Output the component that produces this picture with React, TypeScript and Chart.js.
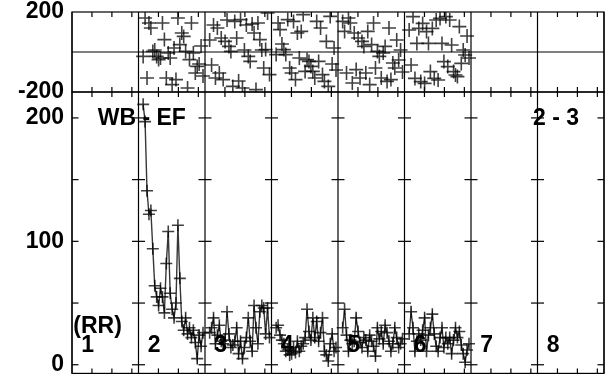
import React, { useEffect, useRef } from 'react';
import { Chart, registerables } from 'chart.js';

Chart.register(...registerables);

// ---- data ----
const columnLabels = ['1', '2', '3', '4', '5', '6', '7', '8'];
const titleLeft = 'WB - EF';
const titleRight = '2 - 3';
const rowLabel = '(RR)';
const bottomTickLabels = [0, 100, 200];
const bottomTickMarks = [0, 50, 100, 150, 200];
const topTickLabels = [200, -200];
const subTicks = [0.3, 0.6, 0.9];
const seriesColumns = [1, 2, 3, 4, 5];

const rrCol2 = [211, 197, 141, 122, 125, 94, 64, 55, 48, 62, 55, 42, 82, 108, 58, 45, 38, 50, 113, 70, 35, 28, 38, 25, 30, 22, 28, 18, 5, 24, 15, 26];
const rrCol3 = [26, 30, 38, 17, 24, 32, 19, 17, 20, 43, 25, 14, 16, 19, 30, 9, 19, 5, 14, 22, 38, 19, 11, 48, 30, 17, 43, 48, 46, 25, 46, 22];
const rrCol4 = [30, 32, 24, 20, 17, 11, 12, 8, 9, 14, 10, 19, 11, 15, 17, 22, 45, 27, 20, 38, 22, 35, 19, 26, 38, 11, 8, 3, 17, 25, 11, 14];
const rrCol5 = [30, 45, 24, 11, 20, 17, 19, 38, 27, 18, 14, 22, 20, 11, 24, 19, 15, 7, 30, 21, 27, 17, 32, 26, 19, 11, 17, 30, 22, 14, 17, 21];
const rrCol6 = [25, 43, 30, 11, 19, 25, 20, 28, 38, 11, 24, 30, 41, 25, 15, 11, 22, 30, 14, 22, 17, 22, 9, 20, 30, 22, 27, 16, 9, 2, 12, 17];

const resCol2 = [-22, 170, -130, 145, 120, 3, 10, -22, -38, -30, 145, 62, -130, -5, -30, -163, 20, -138, 170, 37, 95, 78, 3, -180, -38, 145, -5, -105, -72, -60, 30, -120];
const resCol3 = [60, -65, 135, -130, 120, -105, 70, -138, 53, 160, 28, 3, -172, 153, 70, -145, 162, -180, 10, 135, -22, -47, 140, 95, -188, 145, 62, 10, -80, 12, 195, -113];
const resCol4 = [-13, 145, 112, 40, 12, -13, 162, -80, -105, 153, -138, 95, -30, 103, 187, -97, -38, -47, -72, -97, -130, 153, -47, 120, -113, -147, 53, -172, 178, -60, 20, -90];
const resCol5 = [153, 103, -105, 170, 145, -155, 95, -88, 70, -130, 53, 28, -105, 103, -163, 37, 145, -80, 3, -22, -130, -5, 28, -147, 120, -138, -55, -80, 60, -40, 10, -100];
const resCol6 = [110, -65, 177, -132, 43, 118, -148, 143, -157, 102, 43, -98, 118, -132, 160, -140, 168, 43, -48, 177, -73, 160, 35, -98, -115, -123, 127, -57, 10, -15, 80, -30];

const rrSeries = [rrCol2, rrCol3, rrCol4, rrCol5, rrCol6];
const resSeries = [resCol2, resCol3, resCol4, resCol5, resCol6];

const W = 616;
const H = 381;
const FONT = 'bold 23px "Liberation Sans", Arial, Helvetica, sans-serif';

function colX(col: number, i: number, n: number) {
  return col + 0.07 + (0.9 * i) / (n - 1);
}

function line(ctx: CanvasRenderingContext2D, x1: number, y1: number, x2: number, y2: number) {
  ctx.beginPath();
  ctx.moveTo(x1, y1);
  ctx.lineTo(x2, y2);
  ctx.stroke();
}

const topFrame = {
  id: 'topFrame',
  beforeDatasetsDraw(chart: any) {
    const { ctx, chartArea, scales } = chart;
    const { left, right, top, bottom } = chartArea;
    const x = scales.x;
    const y = scales.y;
    ctx.save();
    ctx.strokeStyle = '#000';
    ctx.lineWidth = 1.2;
    ctx.strokeRect(left, top, right - left, bottom - top);
    const y0 = y.getPixelForValue(0);
    line(ctx, left, y0, right, y0);
    for (let c = 0; c <= columnLabels.length; c++) {
      const px = x.getPixelForValue(c);
      line(ctx, px, top, px, bottom);
    }
    for (let c = 0; c < columnLabels.length; c++) {
      for (const s of subTicks) {
        const px = x.getPixelForValue(c + s);
        line(ctx, px, top, px, top + 5);
        line(ctx, px, bottom - 5, px, bottom + 5);
      }
    }
    ctx.fillStyle = '#000';
    ctx.font = FONT;
    ctx.textAlign = 'right';
    ctx.textBaseline = 'middle';
    for (const t of topTickLabels) {
      ctx.fillText(String(t), left - 8, y.getPixelForValue(t));
    }
    ctx.restore();
  },
};

const bottomFrame = {
  id: 'bottomFrame',
  beforeDatasetsDraw(chart: any) {
    const { ctx, chartArea, scales } = chart;
    const { left, right, top, bottom } = chartArea;
    const x = scales.x;
    const y = scales.y;
    const n = columnLabels.length;
    ctx.save();
    ctx.strokeStyle = '#000';
    ctx.lineWidth = 1.2;
    ctx.strokeRect(left, top, right - left, bottom - top);
    for (let c = 0; c <= n; c++) {
      const px = x.getPixelForValue(c);
      line(ctx, px, top, px, bottom);
      for (const t of bottomTickMarks) {
        const py = y.getPixelForValue(t);
        const l = c === 0 ? 0 : 6.5;
        const r = c === n ? 0 : 6.5;
        line(ctx, px - l, py, px + r, py);
      }
    }
    for (let c = 0; c < n; c++) {
      for (const s of subTicks) {
        const px = x.getPixelForValue(c + s);
        line(ctx, px, bottom - 5, px, bottom);
      }
    }
    ctx.fillStyle = '#000';
    ctx.font = FONT;
    ctx.textAlign = 'right';
    ctx.textBaseline = 'middle';
    for (const t of bottomTickLabels) {
      ctx.fillText(String(t), left - 8, y.getPixelForValue(t));
    }
    ctx.restore();
  },
  afterDatasetsDraw(chart: any) {
    const { ctx, scales } = chart;
    const x = scales.x;
    const y = scales.y;
    ctx.save();
    ctx.fillStyle = '#000';
    ctx.font = FONT;
    ctx.textBaseline = 'alphabetic';
    ctx.textAlign = 'left';
    columnLabels.forEach((lab, c) => {
      ctx.fillText(lab, x.getPixelForValue(c + 0.14), y.getPixelForValue(10));
    });
    ctx.fillText(rowLabel, x.getPixelForValue(0.02), y.getPixelForValue(26));
    ctx.textAlign = 'center';
    ctx.fillText(titleLeft, x.getPixelForValue(1.05), y.getPixelForValue(194));
    ctx.fillText(titleRight, x.getPixelForValue(7.28), y.getPixelForValue(194));
    ctx.restore();
  },
};

export default function App() {
  const topRef = useRef<HTMLCanvasElement>(null);
  const botRef = useRef<HTMLCanvasElement>(null);

  useEffect(() => {
    const topChart = new Chart(topRef.current as HTMLCanvasElement, {
      type: 'scatter',
      data: {
        datasets: resSeries.map((arr, k) => ({
          data: arr.map((v, i) => ({ x: colX(seriesColumns[k], i, arr.length), y: v })),
          showLine: false,
          pointStyle: 'cross',
          pointRadius: 7,
          pointBorderWidth: 1.6,
          pointBorderColor: 'rgba(0,0,0,0.75)',
          borderColor: 'rgba(0,0,0,0.75)',
          backgroundColor: 'rgba(0,0,0,0.75)',
        })),
      },
      options: {
        responsive: false,
        animation: false,
        devicePixelRatio: 1,
        events: [],
        layout: { padding: { left: 72, right: 12, top: 12, bottom: H - 92 } },
        plugins: { legend: { display: false }, tooltip: { enabled: false } },
        scales: {
          x: { type: 'linear', min: 0, max: 8, display: false },
          y: { type: 'linear', min: -200, max: 200, display: false },
        },
      },
      plugins: [topFrame],
    } as any);

    const botChart = new Chart(botRef.current as HTMLCanvasElement, {
      type: 'scatter',
      data: {
        datasets: rrSeries.map((arr, k) => ({
          data: arr.map((v, i) => ({ x: colX(seriesColumns[k], i, arr.length), y: v })),
          showLine: true,
          borderWidth: 1.4,
          borderColor: 'rgba(20,20,20,0.85)',
          pointStyle: 'cross',
          pointRadius: 6,
          pointBorderWidth: 1.6,
          pointBorderColor: 'rgba(0,0,0,0.75)',
          backgroundColor: 'rgba(0,0,0,0.75)',
          tension: 0,
        })),
      },
      options: {
        responsive: false,
        animation: false,
        devicePixelRatio: 1,
        events: [],
        layout: { padding: { left: 72, right: 12, top: 92, bottom: 1 } },
        plugins: { legend: { display: false }, tooltip: { enabled: false } },
        scales: {
          x: { type: 'linear', min: 0, max: 8, display: false },
          y: { type: 'linear', min: -7, max: 221, display: false },
        },
      },
      plugins: [bottomFrame],
    } as any);

    return () => {
      topChart.destroy();
      botChart.destroy();
    };
  }, []);

  const canvasStyle: React.CSSProperties = { position: 'absolute', left: 0, top: 0, display: 'block' };
  return (
    <div style={{ position: 'absolute', left: 0, top: 0, width: W, height: H, background: '#fff' }}>
      <canvas ref={botRef} width={W} height={H} style={canvasStyle} />
      <canvas ref={topRef} width={W} height={H} style={canvasStyle} />
    </div>
  );
}
